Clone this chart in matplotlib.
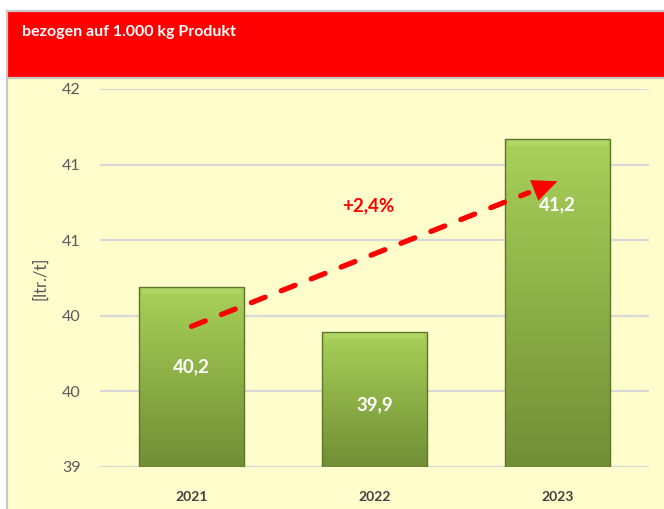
import numpy as np
import matplotlib.pyplot as plt
import matplotlib.colors as mcolors
from matplotlib.patches import Rectangle
from matplotlib.lines import Line2D

plt.rcParams["font.family"] = ["Lato", "DejaVu Sans"]

YEARS  = ["2021", "2022", "2023"]
VALUES = [40.19, 39.89, 41.17]
Y_TICKS = [39.0, 39.5, 40.0, 40.5, 41.0, 41.5]

TITLE   = "bezogen auf 1.000 kg Produkt"
Y_LABEL = "[ltr./t]"

# how far below the bar top each value label sits (data units)
LABEL_DROP = [0.53, 0.48, 0.435]

RED    = "#FF0000"
YELLOW = "#FFFDCC"
GRID   = "#D9D9D9"
BORDER = "#C8C8C8"
GREEN_TOP = "#A8D159"
GREEN_BOT = "#718E35"
GREEN_EDGE = "#5C772A"

W, H = 664, 509
fig = plt.figure(figsize=(W / 100, H / 100), dpi=100)
fig.patch.set_facecolor("white")

def fx(px):
    return px / W

def fy(py):
    return 1 - py / H

# ---- frame: yellow area, red header, grey border ------------------------
fig.add_artist(Rectangle((fx(8), 0), 1, fy(78), transform=fig.transFigure,
                         facecolor=YELLOW, edgecolor="none", zorder=0))
fig.add_artist(Rectangle((fx(8), fy(77)), 1, fy(12) - fy(77), transform=fig.transFigure,
                         facecolor=RED, edgecolor="none", zorder=0))
fig.add_artist(Line2D([fx(7), fx(7)], [0, fy(11)], transform=fig.transFigure,
                      color=BORDER, lw=1.6, zorder=1))
fig.add_artist(Line2D([fx(7), 1], [fy(11), fy(11)], transform=fig.transFigure,
                      color=BORDER, lw=1.6, zorder=1))
fig.add_artist(Line2D([fx(8), 1], [fy(78), fy(78)], transform=fig.transFigure,
                      color=BORDER, lw=1.6, zorder=1))
fig.text(fx(22), fy(32), TITLE, color="white", fontsize=11.5, fontweight="bold",
         ha="left", va="center")

# ---- axes --------------------------------------------------------------
ax = fig.add_axes([fx(100), fy(467), fx(649) - fx(100), fy(89) - fy(467)])
ax.set_facecolor("none")
x = np.arange(len(YEARS))

for s in ax.spines.values():
    s.set_visible(False)
ax.set_yticks(Y_TICKS)
ax.set_yticklabels([str(int(np.floor(v + 0.5))) for v in Y_TICKS],
                   fontsize=11.5, color="#595959")
ax.set_xticks(x)
ax.set_xticklabels(YEARS, fontsize=10, fontweight="bold", color="#404040")
ax.tick_params(axis="y", length=0, pad=14)
ax.tick_params(axis="x", length=0, pad=17)
ax.yaxis.grid(True, color=GRID, lw=1.6)
ax.set_axisbelow(True)
ax.set_ylabel(Y_LABEL, fontsize=12, color="#595959")
ax.yaxis.set_label_coords(-0.095, 0.5)

# ---- bars with vertical gradient ---------------------------------------
bars = ax.bar(x, np.array(VALUES) - Y_TICKS[0], bottom=Y_TICKS[0], width=0.574,
              facecolor="none", edgecolor=GREEN_EDGE, lw=1.0, zorder=3)
cmap = mcolors.LinearSegmentedColormap.from_list("g", [GREEN_BOT, GREEN_TOP])
grad = np.linspace(0, 1, 256).reshape(-1, 1)
for b in bars:
    x0, w = b.get_x(), b.get_width()
    y0, h = b.get_y(), b.get_height()
    im = ax.imshow(grad, cmap=cmap, origin="lower", aspect="auto",
                   extent=[x0, x0 + w, y0, y0 + h], zorder=2)
    im.set_clip_path(b)
    # soft bevel on top
    ax.fill_between([x0 + 0.015, x0 + w - 0.015], y0 + h - 0.045, y0 + h,
                    color="#B4DA6C", alpha=0.7, lw=0, zorder=2.5)
ax.set_xlim(-0.5, len(YEARS) - 0.5)
ax.set_ylim(Y_TICKS[0], Y_TICKS[-1])

for xi, v, dy in zip(x, VALUES, LABEL_DROP):
    ax.text(xi, v - dy, f"{v:.1f}".replace(".", ","), color="white",
            fontsize=13.5, fontweight="bold", ha="center", va="center", zorder=5)

# ---- trend arrow ---------------------------------------------------------
start = (x[0], VALUES[0] - 0.26)
tip = (x[-1], VALUES[-1] - 0.28)
p0 = ax.transData.transform(start)
p1 = ax.transData.transform(tip)
d = (p1 - p0) / np.hypot(*(p1 - p0))
base = ax.transData.inverted().transform(p1 - d * 31)
head_from = ax.transData.inverted().transform(p1 - d * 25)
ax.plot([start[0], base[0]], [start[1], base[1]], color=RED, lw=3.8,
        linestyle=(0, (2.8, 3.3)), dash_capstyle="round", zorder=6)
ax.annotate("", xy=tip, xytext=head_from,
            arrowprops=dict(arrowstyle="-|>,head_length=1.8,head_width=0.8",
                            color=RED, lw=0, shrinkA=0, shrinkB=0), zorder=6)

pct = (VALUES[-1] / VALUES[0] - 1) * 100
ax.text(0.965, 40.73, f"+{pct:.1f}%".replace(".", ","), color=RED,
        fontsize=13.5, fontweight="bold", ha="center", va="center", zorder=6)

fig.savefig("out.png", dpi=100)
